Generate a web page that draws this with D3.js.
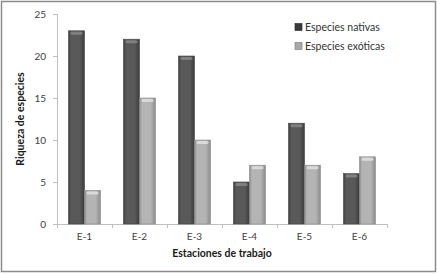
<!DOCTYPE html>
<html>
<head>
<meta charset="utf-8">
<script src="https://cdn.jsdelivr.net/npm/d3@7"></script>
<style>
  body { margin: 0; background: #fff; }
  svg { display: block; font-family: Lato, "Open Sans", sans-serif; }
</style>
</head>
<body>
<div id="chart"></div>
<script>
// Station names and species counts
const stations = ['E-1', 'E-2', 'E-3', 'E-4', 'E-5', 'E-6'];
const nativas = [23, 22, 20, 5, 12, 6];
const exoticas = [4, 15, 10, 7, 7, 8];
const seriesNames = ['Especies nativas', 'Especies exóticas'];
const yTicks = [0, 5, 10, 15, 20, 25];

const width = 437, height = 274;
const margin = { top: 14, right: 50, bottom: 50, left: 57 };
const innerW = 387 - margin.left;
const innerH = 224 - margin.top;

const svg = d3.select('#chart').append('svg')
  .attr('width', width)
  .attr('height', height);

// gradients for the bars (cylinder look)
const defs = svg.append('defs');
function addGrad(id, edge, mid) {
  const g = defs.append('linearGradient').attr('id', id)
    .attr('x1', '0%').attr('x2', '100%').attr('y1', '0%').attr('y2', '0%');
  g.append('stop').attr('offset', '0%').attr('stop-color', edge);
  g.append('stop').attr('offset', '15%').attr('stop-color', mid);
  g.append('stop').attr('offset', '70%').attr('stop-color', mid);
  g.append('stop').attr('offset', '100%').attr('stop-color', edge);
}
addGrad('gNat', '#3c3c3c', '#595959');
addGrad('gExo', '#8c8c8c', '#b4b4b4');
const colors = ['url(#gNat)', 'url(#gExo)'];
const capColors = ['#8a8a8a', '#e2e2e2'];
const legendColors = ['#3a3a3a', '#a8a8a8'];

// outer frame
svg.append('rect')
  .attr('x', 1.5).attr('y', 1.5)
  .attr('width', width - 3).attr('height', height - 4)
  .attr('fill', 'none')
  .attr('stroke', '#8c8c8c')
  .attr('stroke-width', 1.5);

const g = svg.append('g')
  .attr('transform', `translate(${margin.left},${margin.top})`);

const x = d3.scaleBand().domain(stations).range([0, innerW]);
const y = d3.scaleLinear().domain([0, 25]).range([innerH, 0]);

// axes
const yAxis = g.append('g')
  .call(d3.axisLeft(y).tickValues(yTicks).tickSize(4).tickPadding(7));
const xAxis = g.append('g')
  .attr('transform', `translate(0,${innerH})`)
  .call(d3.axisBottom(x).tickSize(0).tickPadding(9));

[xAxis, yAxis].forEach(a => {
  a.select('.domain').attr('stroke', '#bfbfbf');
  a.selectAll('.tick line').attr('stroke', '#bfbfbf');
  a.selectAll('text').attr('fill', '#404040').style('font-size', '10px')
    .style('font-family', 'Lato, sans-serif');
});

// x tick marks on band boundaries
g.append('g').selectAll('line')
  .data(stations.concat(['end']))
  .join('line')
  .attr('x1', (d, i) => i * x.step() + 0.5)
  .attr('x2', (d, i) => i * x.step() + 0.5)
  .attr('y1', innerH)
  .attr('y2', innerH + 4)
  .attr('stroke', '#bfbfbf');

// bars
const barW = 16;
const series = [nativas, exoticas];
series.forEach((vals, si) => {
  const grp = g.append('g');
  vals.forEach((v, i) => {
    const bx = x(stations[i]) + x.bandwidth() / 2 - barW + si * barW;
    grp.append('rect')
      .attr('x', bx)
      .attr('y', y(v))
      .attr('width', barW)
      .attr('height', innerH - y(v))
      .attr('fill', colors[si])
      .attr('stroke', si === 0 ? '#444' : '#8a8a8a')
      .attr('stroke-width', 0.6);
    // light cap at the top
    grp.append('rect')
      .attr('x', bx + 2)
      .attr('y', y(v) + 1)
      .attr('width', barW - 4)
      .attr('height', 3)
      .attr('rx', 1.5)
      .attr('fill', capColors[si])
      .attr('opacity', 0.8);
  });
});

// axis titles
svg.append('text')
  .attr('x', margin.left + innerW / 2)
  .attr('y', 257)
  .attr('text-anchor', 'middle')
  .style('font-size', '10.5px')
  .style('font-weight', 'bold')
  .attr('fill', '#1a1a1a')
  .text('Estaciones de trabajo');

svg.append('text')
  .attr('transform', `translate(24,${margin.top + innerH / 2}) rotate(-90)`)
  .attr('text-anchor', 'middle')
  .style('font-size', '10.5px')
  .style('font-weight', 'bold')
  .attr('fill', '#1a1a1a')
  .text('Riqueza de especies');

// legend
const legend = svg.append('g').attr('transform', 'translate(295,23)');
seriesNames.forEach((name, i) => {
  const row = legend.append('g').attr('transform', `translate(0,${i * 19})`);
  row.append('rect')
    .attr('width', 7).attr('height', 7)
    .attr('y', 0.5)
    .attr('fill', legendColors[i])
    .attr('stroke', i === 0 ? '#222' : '#777')
    .attr('stroke-width', 0.6);
  row.append('text')
    .attr('x', 10)
    .attr('y', 4)
    .attr('dy', '0.35em')
    .style('font-size', '10.5px')
    .attr('fill', '#333')
    .text(name);
});
</script>
</body>
</html>
